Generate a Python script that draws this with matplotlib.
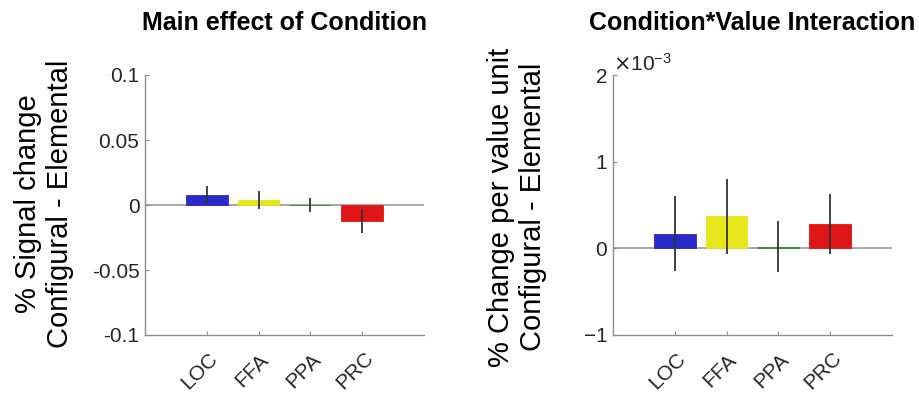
import matplotlib
matplotlib.use("Agg")
import matplotlib.pyplot as plt
import matplotlib.transforms as mtransforms
from matplotlib.ticker import ScalarFormatter

plt.rcParams['font.family'] = ['Liberation Sans', 'DejaVu Sans']
plt.rcParams['axes.formatter.use_mathtext'] = True

regions = ["LOC", "FFA", "PPA", "PRC"]
colors = ["#2a2ac8", "#e6e61a", "#2a922a", "#e01616"]

main_vals = [0.0074, 0.0038, 0.0002, -0.0123]
main_err = [0.0069, 0.0072, 0.0055, 0.0092]
main_yticks = [-0.1, -0.05, 0, 0.05, 0.1]
main_yticklabels = ["-0.1", "-0.05", "0", "0.05", "0.1"]

inter_vals = [0.17e-3, 0.37e-3, 0.02e-3, 0.28e-3]
inter_err = [0.43e-3, 0.43e-3, 0.29e-3, 0.345e-3]
inter_yticks = [-1e-3, 0, 1e-3, 2e-3]

W, H = 920, 394
fig = plt.figure(figsize=(9.2, 3.94), dpi=100)

tick_color = "#262626"
spine_color = "#8c8c8c"


def style(ax):
    for s in ["top", "right"]:
        ax.spines[s].set_visible(False)
    for s in ["left", "bottom"]:
        ax.spines[s].set_color(spine_color)
        ax.spines[s].set_linewidth(1.0)
    ax.tick_params(direction="in", length=3, width=0.8, color=spine_color,
                   labelcolor=tick_color, labelsize=15)
    ax.tick_params(axis="y", pad=4)
    ax.tick_params(axis="x", labelbottom=False)
    ax.set_xlim(-0.2, 5.2)


def draw(ax, vals, errs):
    x = list(range(1, len(vals) + 1))
    ax.axhline(0, color="#a0a0a0", lw=1.3, zorder=1)
    ax.bar(x, vals, width=0.8, color=colors, edgecolor=colors, linewidth=0.6, zorder=2)
    ax.errorbar(x, vals, yerr=errs, fmt="none", ecolor="#333333", elinewidth=1.3,
                capsize=0, zorder=3)
    ax.set_xticks(x)
    off = mtransforms.ScaledTranslation(-7 / 100, -36 / 100, fig.dpi_scale_trans)
    tr = ax.get_xaxis_transform() + off
    for xi, name in zip(x, regions):
        ax.text(xi, 0, name, transform=tr, rotation=45, ha="center", va="center",
                rotation_mode="anchor", fontsize=15, color=tick_color, clip_on=False)


ax1 = fig.add_axes([145 / W, 1 - 335 / H, 279 / W, 260 / H])
draw(ax1, main_vals, main_err)
ax1.set_ylim(-0.1, 0.1)
ax1.set_yticks(main_yticks)
ax1.set_yticklabels(main_yticklabels)
style(ax1)

ax2 = fig.add_axes([613 / W, 1 - 335 / H, 279 / W, 260 / H])
draw(ax2, inter_vals, inter_err)
ax2.set_ylim(-1e-3, 2e-3)
ax2.set_yticks(inter_yticks)
fmt = ScalarFormatter(useMathText=True)
fmt.set_powerlimits((-3, -3))
ax2.yaxis.set_major_formatter(fmt)
style(ax2)
ax2.yaxis.get_offset_text().set_fontsize(15)
ax2.yaxis.get_offset_text().set_color(tick_color)

fig.text(284.5 / W, 1 - 30 / H, "Main effect of Condition", ha="center",
         va="baseline", fontsize=18, fontweight="bold")
fig.text(752 / W, 1 - 30 / H, "Condition*Value Interaction", ha="center",
         va="baseline", fontsize=18, fontweight="bold")

fig.text(44 / W, 1 - 204 / H, "% Signal change\nConfigural - Elemental",
         rotation=90, ha="center", va="center", fontsize=21, color="black",
         linespacing=1.2)
fig.text(517 / W, 1 - 207 / H, "% Change per value unit\nConfigural - Elemental",
         rotation=90, ha="center", va="center", fontsize=21, color="black",
         linespacing=1.2)

fig.savefig("out.png", dpi=100)
